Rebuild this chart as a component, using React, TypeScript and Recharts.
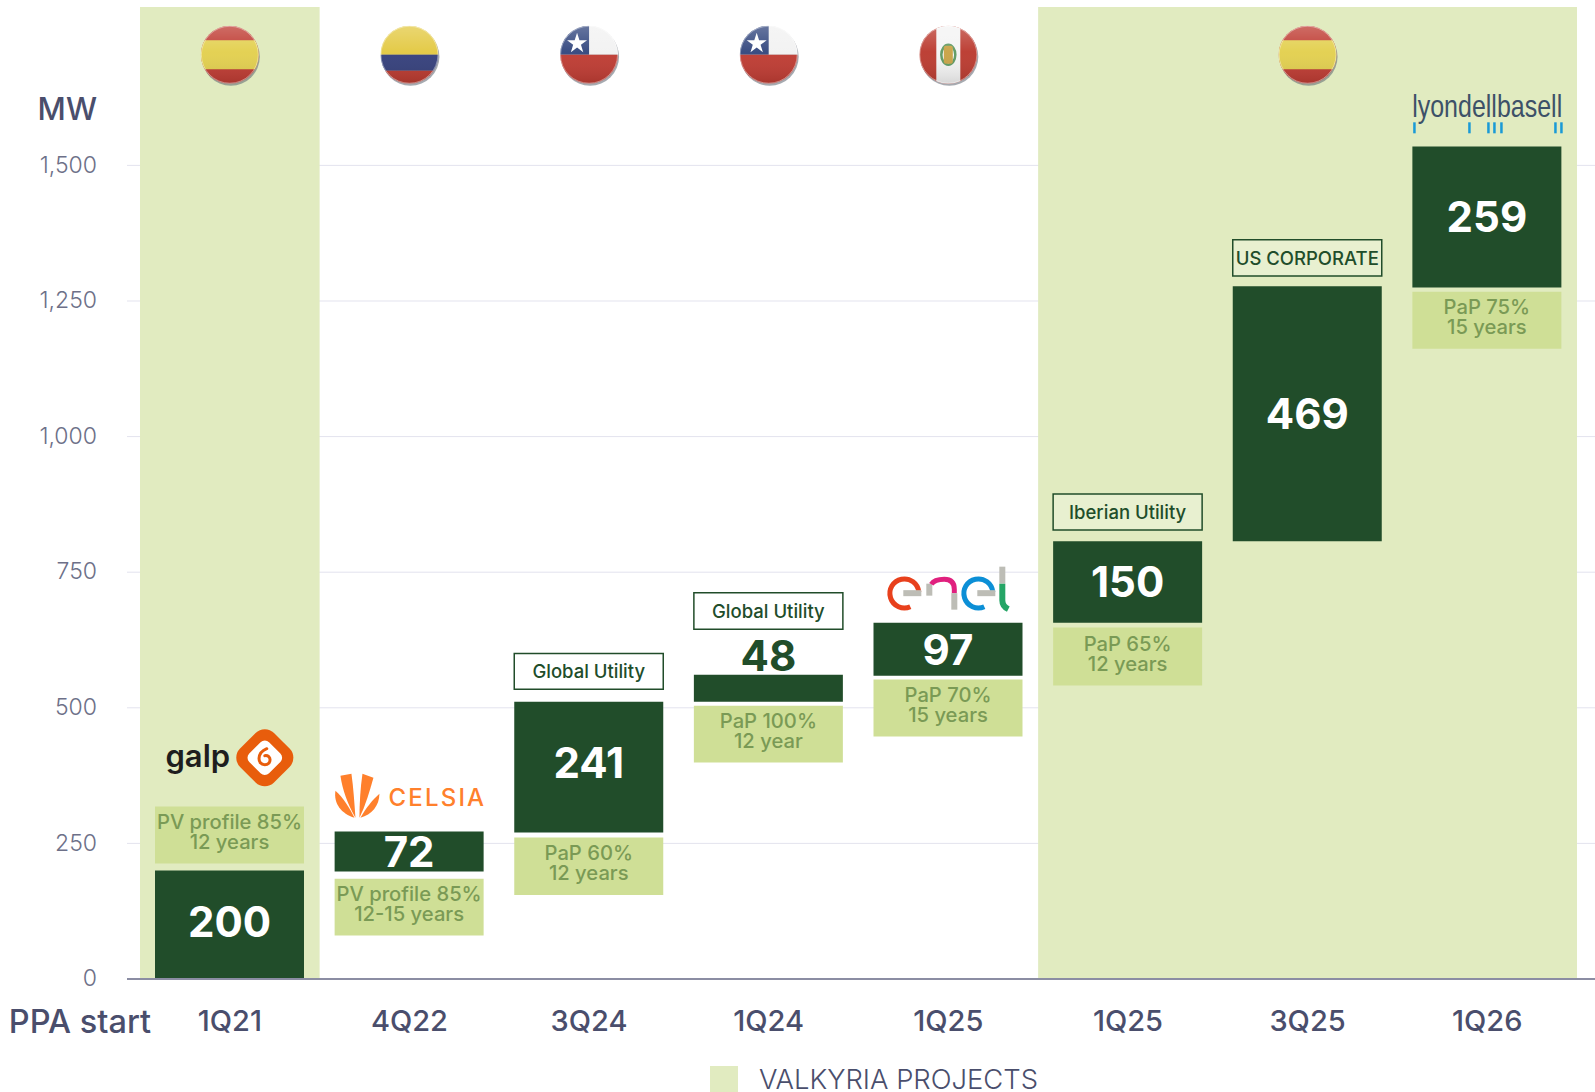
import React from "react";
import {
  Bar,
  BarChart,
  CartesianGrid,
  Cell,
  LabelList,
  Legend,
  ReferenceArea,
  ReferenceDot,
  XAxis,
  YAxis,
} from "recharts";

const FONT = "Inter, 'Noto Sans', sans-serif";
const DARK = "#214d2a";
const TAG = "#cfdf96";
const TAG_TEXT = "#7a9a55";
const BAND = "#e1ebc0";
const SLATE = "#4a4e6c";

const slots = ["s1", "s2", "s3", "s4", "s5", "s6", "s7", "s8"];
const quarters = ["1Q21", "4Q22", "3Q24", "1Q24", "1Q25", "1Q25", "3Q25", "1Q26"];
const yTicks = [0, 250, 500, 750, 1000, 1250, 1500];

const mainLow = [0, 198, 270, 511, 559, 657, 807, 1275];
const mainHigh = [200, 272, 511, 561, 657, 807, 1277, 1535];
const mainLabels = ["200", "72", "241", "48", "97", "150", "469", "259"];

const tagLow = [213, 80, 155, 399, 447, 541, null, 1162];
const tagHigh = [318, 185, 261, 504, 552, 648, null, 1267];
const tagLine1 = ["PV profile 85%", "PV profile 85%", "PaP 60%", "PaP 100%", "PaP 70%", "PaP 65%", "", "PaP 75%"];
const tagLine2 = ["12 years", "12-15 years", "12 years", "12 year", "15 years", "12 years", "", "15 years"];

const boxLow = [null, null, 534, 645, null, 828, 1296, null];
const boxHigh = [null, null, 600, 712, null, 894, 1363, null];
const boxNames = ["", "", "Global Utility", "Global Utility", "", "Iberian Utility", "US CORPORATE", ""];
const boxFills = ["none", "none", "#ffffff", "#ffffff", "none", "#e8f0d0", "#e8f0d0", "none"];

const flags = ["spain", "colombia", "chile", "chile", "peru", "", "spain", ""];
const flagLevel = 1704;
const logos = ["galp", "celsia", "", "", "enel", "", "", "lyondell"];
const logoLevels = [408, 338, 0, 0, 720, 0, 0, 1596];

const chartData = slots.map((slot, i) => ({
  slot,
  main: [mainLow[i], mainHigh[i]],
  mainText: mainLabels[i],
  tag: tagLow[i] === null ? null : [tagLow[i], tagHigh[i]],
  tagText: `${tagLine1[i]}|${tagLine2[i]}`,
  box: boxLow[i] === null ? null : [boxLow[i], boxHigh[i]],
  boxText: boxNames[i],
}));

function Flag({ cx, cy, kind }: any) {
  const id = `clip-${kind}-${Math.round(cx)}`;
  const r = 29;
  return (
    <g>
      <circle cx={cx + 1} cy={cy + 2} r={r} fill="#5d6470" opacity={0.55} />
      <defs>
        <clipPath id={id}>
          <circle cx={cx} cy={cy} r={r} />
        </clipPath>
        <linearGradient id={`${id}-g`} x1="0" y1="0" x2="0" y2="1">
          <stop offset="0" stopColor="#ffffff" stopOpacity={0.25} />
          <stop offset="0.45" stopColor="#ffffff" stopOpacity={0.03} />
          <stop offset="1" stopColor="#000000" stopOpacity={0.12} />
        </linearGradient>
      </defs>
      <g clipPath={`url(#${id})`}>
        {kind === "spain" && (
          <>
            <rect x={cx - r} y={cy - r} width={2 * r} height={2 * r} fill="#bf3c33" />
            <rect x={cx - r} y={cy - 14.5} width={2 * r} height={29} fill="#e3d04f" />
          </>
        )}
        {kind === "colombia" && (
          <>
            <rect x={cx - r} y={cy - r} width={2 * r} height={29} fill="#e3c943" />
            <rect x={cx - r} y={cy} width={2 * r} height={16} fill="#35407c" />
            <rect x={cx - r} y={cy + 16} width={2 * r} height={13} fill="#bb3b30" />
          </>
        )}
        {kind === "chile" && (
          <>
            <rect x={cx - r} y={cy - r} width={2 * r} height={29} fill="#f2f2f2" />
            <rect x={cx - r} y={cy - r} width={29} height={29} fill="#34487f" />
            <rect x={cx - r} y={cy} width={2 * r} height={29} fill="#bf3c33" />
            <polygon
              points={`${cx - 12},${cy - 22} ${cx - 9.6},${cy - 14.6} ${cx - 2},${cy - 14.6} ${cx - 8.1},${cy - 10} ${cx - 5.8},${cy - 2.6} ${cx - 12},${cy - 7.2} ${cx - 18.2},${cy - 2.6} ${cx - 15.9},${cy - 10} ${cx - 22},${cy - 14.6} ${cx - 14.4},${cy - 14.6}`}
              fill="#ffffff"
            />
          </>
        )}
        {kind === "peru" && (
          <>
            <rect x={cx - r} y={cy - r} width={2 * r} height={2 * r} fill="#bb3b30" />
            <rect x={cx - 12} y={cy - r} width={24} height={2 * r} fill="#f4f4f4" />
            <ellipse cx={cx} cy={cy} rx={7} ry={10} fill="none" stroke="#5f9a63" strokeWidth={2.5} />
            <rect x={cx - 4.5} y={cy - 9} width={9} height={18} rx={2} fill="#c9a347" />
          </>
        )}
        <circle cx={cx} cy={cy} r={r} fill={`url(#${id}-g)`} />
      </g>
      <circle cx={cx} cy={cy} r={r - 0.5} fill="none" stroke="#ffffff" strokeOpacity={0.4} />
    </g>
  );
}

function GalpLogo({ cx, cy }: any) {
  const ix = cx + 35;
  return (
    <g>
      <text x={cx - 32} y={cy + 9} textAnchor="middle" fontFamily={FONT} fontWeight={600} fontSize={31} fill="#1e1e1e">
        galp
      </text>
      <rect x={ix - 24} y={cy - 24} width={48} height={48} rx={13} fill="#e85d0c" transform={`rotate(45 ${ix} ${cy})`} />
      <rect x={ix - 14} y={cy - 14} width={28} height={28} rx={6} fill="#ffffff" transform={`rotate(45 ${ix} ${cy})`} />
      <path
        d={`M ${ix + 2} ${cy - 9} C ${ix - 8} ${cy - 5} ${ix - 8} ${cy + 7} ${ix} ${cy + 7} C ${ix + 7} ${cy + 7} ${ix + 7} ${cy - 3} ${ix} ${cy - 2}`}
        fill="none"
        stroke="#e85d0c"
        strokeWidth={3}
        strokeLinecap="round"
      />
    </g>
  );
}

function CelsiaLogo({ cx, cy }: any) {
  const ox = cx - 52;
  const oy = cy + 22;
  const petals = [
    "M -22 -27 C -24 -14 -16 -4 -3 0 C -8 -10 -14 -20 -22 -27 Z",
    "M -17 -42 L -6 -44 C -4 -30 -3 -14 -2 0 C -10 -14 -15 -28 -17 -42 Z",
    "M 5 -44 L 16 -40 C 12 -26 8 -12 2 0 C 2 -14 3 -30 5 -44 Z",
    "M 22 -24 C 22 -12 14 -3 3 0 C 8 -9 15 -18 22 -24 Z",
  ];
  return (
    <g>
      {petals.map((d) => (
        <path key={d} d={d} transform={`translate(${ox},${oy})`} fill="#ff802c" />
      ))}
      <text x={cx - 21} y={cy + 10} fontFamily={FONT} fontWeight={500} fontSize={24} letterSpacing={2.2} fill="#ff802c">
        CELSIA
      </text>
    </g>
  );
}

function EnelLogo({ cx, cy }: any) {
  const y0 = cy + 4.7;
  const e1 = cx - 44;
  const e2 = cx + 30;
  const ring = (c: number) => `M ${c + 14.5} ${y0 - 1} A 14.5 14.5 0 1 0 ${c + 6} ${y0 + 13.5}`;
  return (
    <g fill="none" strokeWidth={5}>
      <path d={ring(e1)} stroke="#e8401c" />
      <rect x={e1 - 1} y={y0 - 3} width={18} height={6} fill="#bdbdb6" stroke="none" />
      <rect x={cx - 22} y={y0 - 9.5} width={6} height={12} fill="#bdbdb6" stroke="none" />
      <path
        d={`M ${cx - 17} ${y0 - 9} Q ${cx - 14} ${y0 - 14} ${cx - 4} ${y0 - 14} Q ${cx + 6} ${y0 - 14} ${cx + 6} ${y0 - 4} V ${y0}`}
        stroke="#e0207e"
      />
      <rect x={cx + 3} y={y0} width={6} height={16.5} fill="#bdbdb6" stroke="none" />
      <path d={ring(e2)} stroke="#0c8fd6" />
      <rect x={e2 - 1} y={y0 - 3} width={18} height={6} fill="#bdbdb6" stroke="none" />
      <rect x={cx + 51} y={y0 - 26.5} width={6} height={17} fill="#bdbdb6" stroke="none" />
      <path d={`M ${cx + 54} ${y0 - 9.5} V ${y0 + 7} Q ${cx + 54} ${y0 + 13} ${cx + 60} ${y0 + 16}`} stroke="#25a566" strokeWidth={6} />
    </g>
  );
}

function LyondellLogo({ cx, cy }: any) {
  const ticks = [-74, -19, 0, 6, 13, 67, 73];
  return (
    <g>
      <text
        x={cx - 75}
        y={cy + 4}
        textLength={150}
        lengthAdjust="spacingAndGlyphs"
        fontFamily="'Liberation Sans Narrow', 'Liberation Sans', sans-serif"
        fontSize={32}
        fill="#3d5168"
      >
        lyondellbasell
      </text>
      {ticks.map((t) => (
        <rect key={t} x={cx + t} y={cy + 9} width={2.5} height={11} fill="#1a9ad6" />
      ))}
    </g>
  );
}

const logoParts: Record<string, any> = {
  galp: GalpLogo,
  celsia: CelsiaLogo,
  enel: EnelLogo,
  lyondell: LyondellLogo,
};

// the two labels that do not sit dead centre in their bars
const labelNudge: Record<string, number> = { "200": -3, "241": -5 };

function MainLabel({ x, y, width, height, value }: any) {
  const top = Math.min(y, y + height);
  const h = Math.abs(height);
  const outside = value === "48";
  return (
    <text
      x={x + width / 2}
      y={outside ? top - 19 : top + h / 2 + (labelNudge[value] ?? 0)}
      textAnchor="middle"
      dominantBaseline="central"
      fontFamily={FONT}
      fontWeight={700}
      fontSize={42}
      fill={outside ? DARK : "#ffffff"}
    >
      {value}
    </text>
  );
}

function TagLabel({ x, y, width, height, value }: any) {
  const [line1, line2] = String(value).split("|");
  if (!line1) return null;
  const top = Math.min(y, y + height);
  const mid = top + Math.abs(height) / 2;
  return (
    <text textAnchor="middle" fontFamily={FONT} fontWeight={500} fontSize={20.2} fill={TAG_TEXT}>
      <tspan x={x + width / 2} y={mid - 6}>{line1}</tspan>
      <tspan x={x + width / 2} y={mid + 14}>{line2}</tspan>
    </text>
  );
}

function BoxLabel({ x, y, width, height, value }: any) {
  if (!value) return null;
  const top = Math.min(y, y + height);
  return (
    <text
      x={x + width / 2}
      y={top + Math.abs(height) / 2}
      textAnchor="middle"
      dominantBaseline="central"
      fontFamily={FONT}
      fontWeight={500}
      fontSize={18.5}
      fill={DARK}
    >
      {value}
    </text>
  );
}

function ProjectsLegend() {
  return (
    <div style={{ display: "flex", alignItems: "center", height: 26, fontFamily: FONT, fontWeight: 300 }}>
      <div style={{ width: 28, height: 26, background: BAND, marginRight: 21 }} />
      <span style={{ fontSize: 27.4, lineHeight: "26px", color: SLATE, whiteSpace: "nowrap" }}>VALKYRIA PROJECTS</span>
    </div>
  );
}

export default function App() {
  return (
    <div style={{ position: "absolute", left: 0, top: 0, width: 1595, height: 1092, overflow: "hidden" }}>
      <BarChart
        width={1595}
        height={1092}
        data={chartData}
        margin={{ top: 7, right: 0, bottom: 53, left: 0 }}
        barSize={149}
        barGap={-149}
      >
        <ReferenceArea x1="s1" x2="s1" fill={BAND} fillOpacity={1} stroke="none" />
        <ReferenceArea x1="s6" x2="s8" fill={BAND} fillOpacity={1} stroke="none" />
        <CartesianGrid vertical={false} stroke="#e3e3ee" horizontalValues={yTicks} />
        <XAxis
          dataKey="slot"
          height={60}
          padding={{ left: 13, right: 18 }}
          tickLine={false}
          tickMargin={25}
          axisLine={{ stroke: "#8b8da3", strokeWidth: 2 }}
          tick={{ fontFamily: FONT, fontSize: 29, fontWeight: 500, fill: SLATE }}
          tickFormatter={(_: string, i: number) => quarters[i]}
          interval={0}
        />
        <YAxis
          width={127}
          domain={[0, 1792]}
          ticks={yTicks}
          tickLine={false}
          axisLine={false}
          tickMargin={24}
          tick={{ fontFamily: FONT, fontSize: 23, fontWeight: 300, fill: "#6d7088", dy: -1 }}
          tickFormatter={(v: number) => v.toLocaleString("en-US")}
        />
        <Legend
          verticalAlign="middle"
          align="center"
          content={<ProjectsLegend />}
          wrapperStyle={{ left: 710, top: 1066, width: 360, height: 26 }}
        />
        <Bar dataKey="tag" fill={TAG} isAnimationActive={false}>
          <LabelList dataKey="tagText" content={<TagLabel />} />
        </Bar>
        <Bar dataKey="box" stroke={DARK} strokeWidth={1.5} isAnimationActive={false}>
          {boxFills.map((fill, i) => (
            <Cell key={i} fill={fill} />
          ))}
          <LabelList dataKey="boxText" content={<BoxLabel />} />
        </Bar>
        <Bar dataKey="main" fill={DARK} isAnimationActive={false}>
          <LabelList dataKey="mainText" content={<MainLabel />} />
        </Bar>
        {flags.map((kind, i) =>
          kind ? (
            <ReferenceDot
              key={`flag-${i}`}
              x={slots[i]}
              y={flagLevel}
              shape={(p: any) => <Flag cx={p.cx} cy={p.cy} kind={kind} />}
            />
          ) : null
        )}
        {logos.map((kind, i) => {
          if (!kind) return null;
          const Part = logoParts[kind];
          return (
            <ReferenceDot
              key={`logo-${i}`}
              x={slots[i]}
              y={logoLevels[i]}
              shape={(p: any) => <Part cx={p.cx} cy={p.cy} />}
            />
          );
        })}
        <text x={97} y={108} textAnchor="end" dominantBaseline="central" fontFamily={FONT} fontWeight={500} fontSize={31} fill={SLATE}>
          MW
        </text>
        <text x={80} y={1021} textAnchor="middle" dominantBaseline="central" fontFamily={FONT} fontWeight={500} fontSize={32.5} fill={SLATE}>
          PPA start
        </text>
      </BarChart>
    </div>
  );
}
